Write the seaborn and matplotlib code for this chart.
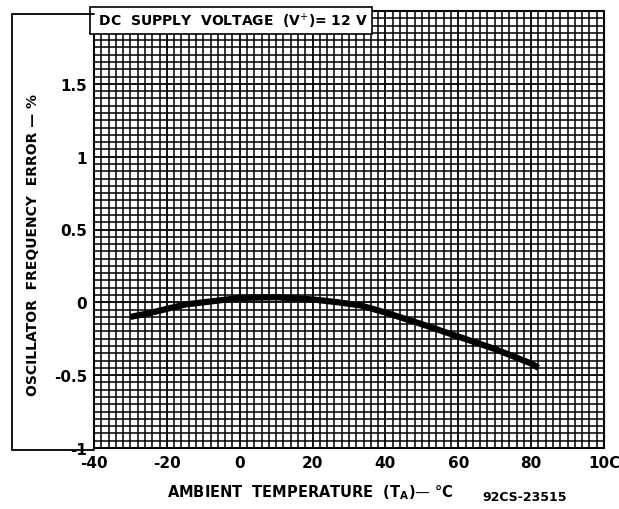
import numpy as np
import pandas as pd
import matplotlib
matplotlib.use("Agg")
import matplotlib.pyplot as plt
from matplotlib.lines import Line2D
import seaborn as sns

# values
temp_c = [-30, -25, -20, -15, -10, 0, 10, 20, 27, 33, 40, 50, 60, 70, 80, 82]
freq_err = [-0.10, -0.075, -0.045, -0.015, 0.0, 0.03, 0.035, 0.02, 0.0, -0.02, -0.07, -0.15, -0.235, -0.32, -0.42, -0.45]

x_ticks = [-40, -20, 0, 20, 40, 60, 80, 100]
x_ticklabels = ["-40", "-20", "0", "20", "40", "60", "80", "10C"]
y_ticks = [-1, -0.5, 0, 0.5, 1, 1.5]
y_ticklabels = ["-1", "-0.5", "0", "0.5", "1", "1.5"]

df = pd.DataFrame({"T": temp_c, "err": freq_err})

sns.set_style("white", {"text.color": "black", "axes.labelcolor": "black",
                        "xtick.color": "black", "ytick.color": "black"})
plt.rcParams["font.family"] = ["DejaVu Sans"]

fig = plt.figure(figsize=(6.19, 5.10), dpi=100)
ax = fig.add_axes([94 / 619, 1 - 449 / 510, (604 - 94) / 619, (449 - 12) / 510])

# graph-paper grid
ax.set_xticks(np.arange(-40, 101, 2), minor=True)
ax.set_yticks(np.arange(-1, 2.001, 0.05), minor=True)
ax.grid(which="minor", color="black", linewidth=1.1)
ax.grid(which="major", color="black", linewidth=1.3)
ax.set_axisbelow(True)

sns.lineplot(data=df, x="T", y="err", ax=ax, color="black", linewidth=4.5,
             solid_capstyle="butt")

ax.set_xlim(-40, 100)
ax.set_ylim(-1, 2)
ax.set_xticks(x_ticks)
ax.set_xticklabels(x_ticklabels)
ax.set_yticks(y_ticks)
ax.set_yticklabels(y_ticklabels)
ax.tick_params(which="both", length=0, labelsize=11, pad=5, labelcolor="black")
for lab in ax.get_xticklabels() + ax.get_yticklabels():
    lab.set_fontweight("semibold")
for s in ax.spines.values():
    s.set_color("black")
    s.set_linewidth(1.5)

ax.set_xlabel("AMBIENT  TEMPERATURE  (T$_\\mathregular{A}$)\u2014 \u00b0C",
              fontsize=10.5, fontweight="bold", color="black")
ax.xaxis.set_label_coords(0.425, -0.078)
ax.set_ylabel("OSCILLATOR  FREQUENCY  ERROR \u2014 %",
              fontsize=10, fontweight="bold", color="black")
ax.yaxis.set_label_coords(-0.105, 0.467)

ax.text(0.0, 1.0, " DC  SUPPLY  VOLTAGE  (V$^{+}$)= 12 V ", transform=ax.transAxes,
        ha="left", va="top", fontsize=10, fontweight="bold", color="black",
        bbox=dict(facecolor="white", edgecolor="black", linewidth=1.2, pad=3))

# outer frame around the y label
fx0, fy_top, fy_bot = 12 / 619, 1 - 15 / 510, 1 - 451 / 510
fig.add_artist(Line2D([fx0, fx0], [fy_bot, fy_top], color="black", lw=1.3))
fig.add_artist(Line2D([fx0, 94 / 619], [fy_top, fy_top], color="black", lw=1.3))
fig.add_artist(Line2D([fx0, 94 / 619], [fy_bot, fy_bot], color="black", lw=1.3))

fig.text(525 / 619, 1 - 498 / 510, "92CS-23515", ha="center", va="center",
         fontsize=9, fontweight="bold", color="black")

fig.savefig("out.png", dpi=100)
